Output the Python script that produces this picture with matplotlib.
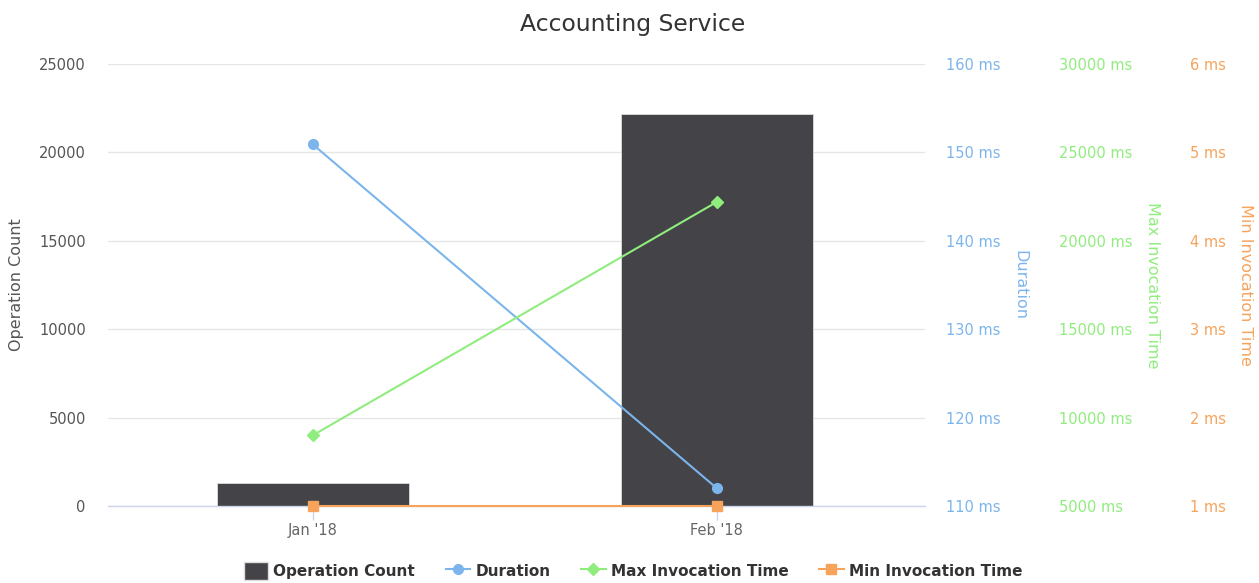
import matplotlib
matplotlib.use("Agg")
import matplotlib.pyplot as plt
from matplotlib.lines import Line2D
from matplotlib.patches import Patch

plt.rcParams['font.family'] = ['DejaVu Sans']

categories = ["Jan '18", "Feb '18"]
operation_count = [1280, 22200]
duration_ms = [150.9, 112.0]
max_invocation_ms = [9000, 22200]
min_invocation_ms = [1, 1]

BAR_COLOR = "#434348"
DUR_COLOR = "#7cb5ec"
MAX_COLOR = "#90ed7d"
MIN_COLOR = "#f7a35c"
GRID = "#e6e6e6"
AXIS = "#ccd6eb"
LABEL = "#555555"
TICK_SIZE = 10.5
TITLE_SIZE = 11.5

W, H = 1259, 583
fig = plt.figure(figsize=(W / 100, H / 100), dpi=100)
left, right, top, bottom = 108, 925, 64, 506
ax = fig.add_axes([left / W, 1 - bottom / H, (right - left) / W, (bottom - top) / H])

x = list(range(len(categories)))

# Operation count bars on the primary axis
ax.bar(x, operation_count, width=0.475, color=BAR_COLOR, edgecolor="#dddddd",
       linewidth=0.6, zorder=2)
ax.set_xlim(-0.507, 1.515)
ax.set_ylim(0, 25000)
ax.set_yticks([0, 5000, 10000, 15000, 20000, 25000])
ax.yaxis.grid(True, color=GRID, linewidth=1)
ax.set_axisbelow(True)
for s in ("top", "right", "left"):
    ax.spines[s].set_visible(False)
ax.spines["bottom"].set_color(AXIS)
ax.spines["bottom"].set_linewidth(1)
ax.set_xticks(x)
ax.set_xticklabels(categories)
ax.tick_params(axis="x", colors=AXIS, length=10, width=1, pad=2, labelcolor="#666666",
               labelsize=TICK_SIZE)
ax.tick_params(axis="y", length=0, pad=16, labelcolor=LABEL, labelsize=TICK_SIZE)
ax.set_ylabel("Operation Count", color="#555555", fontsize=TITLE_SIZE, va="center")
ax.yaxis.set_label_coords((17 - left) / (right - left), 0.5)


def make_twin(color, lim, ticks, fmt, pad_px, label, label_x):
    t = ax.twinx()
    t.set_ylim(*lim)
    t.set_yticks(ticks)
    t.set_yticklabels([fmt(v) for v in ticks])
    for s in t.spines.values():
        s.set_visible(False)
    t.tick_params(axis="y", length=0, pad=pad_px * 0.72, labelcolor=color,
                  labelsize=TICK_SIZE)
    t.set_ylabel(label, color=color, fontsize=TITLE_SIZE, rotation=270, va="center")
    t.yaxis.set_label_coords(label_x, 0.5)
    return t


ms = lambda v: f"{v:g} ms"
t1 = make_twin(DUR_COLOR, (110, 160), [110, 120, 130, 140, 150, 160], ms, 21,
               "Duration", (1020 - left) / (right - left))
t2 = make_twin(MAX_COLOR, (5000, 30000), [5000, 10000, 15000, 20000, 25000, 30000], ms, 134,
               "Max Invocation Time", (1152 - left) / (right - left))
t3 = make_twin(MIN_COLOR, (1, 6), [1, 2, 3, 4, 5, 6], ms, 265,
               "Min Invocation Time", (1245 - left) / (right - left))

t1.plot(x, duration_ms, color=DUR_COLOR, lw=1.5, marker="o", ms=7, clip_on=False)
t2.plot(x, max_invocation_ms, color=MAX_COLOR, lw=1.5, marker="D", ms=6, clip_on=False)
t3.plot(x, min_invocation_ms, color=MIN_COLOR, lw=1.5, marker="s", ms=7, clip_on=False)

fig.text(633 / W, 1 - 24 / H, "Accounting Service", ha="center", va="center",
         fontsize=16.9, color="#333333")

handles = [
    Patch(facecolor=BAR_COLOR, edgecolor="#dddddd"),
    Line2D([], [], color=DUR_COLOR, lw=1.5, marker="o", ms=7),
    Line2D([], [], color=MAX_COLOR, lw=1.5, marker="D", ms=6),
    Line2D([], [], color=MIN_COLOR, lw=1.5, marker="s", ms=7),
]
labels = ["Operation Count", "Duration", "Max Invocation Time", "Min Invocation Time"]
leg = fig.legend(handles, labels, loc="center", bbox_to_anchor=(633 / W, 1 - 571 / H),
                 ncol=4, frameon=False, prop={"weight": "bold", "size": 11},
                 handlelength=1.6, handleheight=1.4, handletextpad=0.35,
                 columnspacing=2.0)
for txt in leg.get_texts():
    txt.set_color("#333333")

fig.savefig("out.png", dpi=100)
